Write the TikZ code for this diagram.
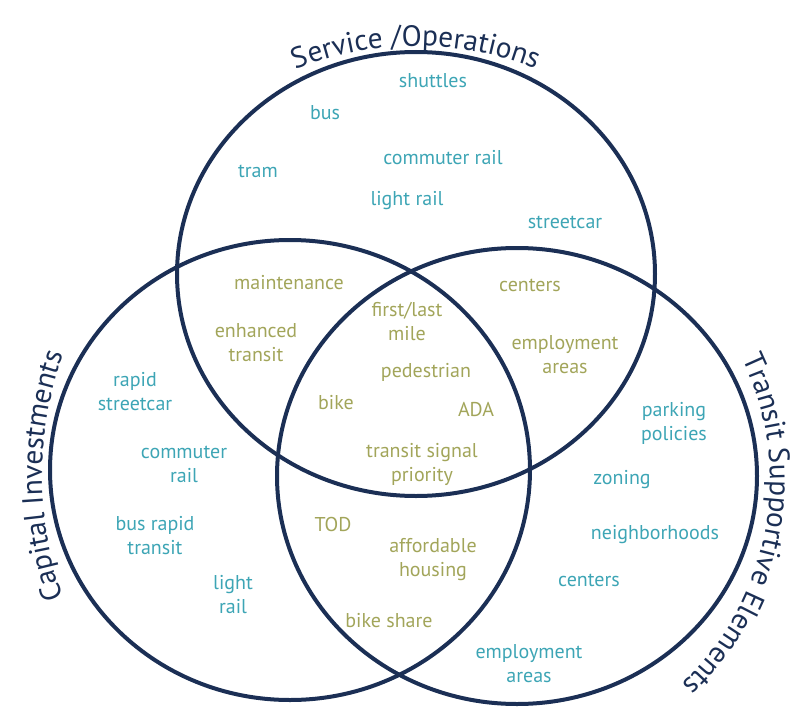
\documentclass[tikz,border=0pt]{standalone}
\usepackage{fontspec}
\setmainfont{PT Sans}
\usetikzlibrary{decorations.text}
\definecolor{ringnavy}{HTML}{1B2F55}
\definecolor{modeteal}{HTML}{3DA5B5}
\definecolor{shareolive}{HTML}{A2A55A}
\newcommand\titlesize{\fontsize{22}{26}\selectfont}
\begin{document}
\begin{tikzpicture}
[x=0.75pt,y=-0.75pt,
  ringdecorate/.style={draw=ringnavy,line width=3pt},
  onedecorate/.style={text=modeteal,align=center,inner sep=0pt,font=\fontsize{15}{18}\selectfont},
  twodecorate/.style={onedecorate,text=shareolive},
  titledecorate/.style={decorate,decoration={text along path,text align=center,text color=ringnavy}}]
\useasboundingbox (0,0) rectangle (793,710);
% centres of the rings
\coordinate (service) at (416,274);
\coordinate (capital) at (290,470);
\coordinate (support) at (517,476);
% rings
\draw[ringdecorate] (service) ellipse [x radius=239,y radius=222];
\draw[ringdecorate] (capital) ellipse [x radius=240,y radius=230];
\draw[ringdecorate] (support) ellipse [x radius=240,y radius=228];
% titles along the rings
\path[titledecorate,decoration={text={|\titlesize|Service /Operations}}]
  (416,366) ++(240:320) arc[start angle=240,end angle=300,radius=320];
\path[titledecorate,decoration={text={|\titlesize|Capital Investments}}]
  (400,476) ++(150:358) arc[start angle=150,end angle=210,radius=358];
\path[titledecorate,decoration={text={|\titlesize|Transit Supportive Elements}}]
  (490,480) ++(-35:280) arc[start angle=-35,end angle=56,radius=280];
% service only
\node (shuttles) at (433,81) [onedecorate] {shuttles};
\node (bus) at (325,113) [onedecorate] {bus};
\node (commrail) at (443,158) [onedecorate] {commuter rail};
\node (tram) at (258,171) [onedecorate] {tram};
\node (lightrail) at (407,201) [onedecorate] {light rail};
\node (streetcar) at (565,222) [onedecorate] {streetcar};
% service and capital
\node (maint) at (289,283) [twodecorate] {maintenance};
\node (enhanced) at (256,343) [twodecorate] {enhanced\\transit};
% service and support
\node (centers) at (530,285) [twodecorate] {centers};
\node (employ) at (565,355) [twodecorate] {employment\\areas};
% all three
\node (firstlast) at (407,321) [twodecorate] {first/last\\mile};
\node (ped) at (426,372) [twodecorate] {pedestrian};
\node (bike) at (336,403) [twodecorate] {bike};
\node (ada) at (476,409) [twodecorate] {ADA};
\node (signal) at (422,464) [twodecorate] {transit signal\\priority};
% capital only
\node (rapid) at (135,392) [onedecorate] {rapid\\streetcar};
\node (commuter) at (184,464) [onedecorate] {commuter\\rail};
\node (brt) at (155,536) [onedecorate] {bus rapid\\transit};
\node (light) at (233,595) [onedecorate] {light\\rail};
% capital and support
\node (tod) at (333,524) [twodecorate] {TOD};
\node (afford) at (433,560) [twodecorate] {affordable\\housing};
\node (bikeshare) at (389,621) [twodecorate] {bike share};
% support only
\node (parking) at (674,423) [onedecorate] {parking\\policies};
\node (zoning) at (622,480) [onedecorate] {zoning};
\node (hoods) at (655,535) [onedecorate] {neighborhoods};
\node (supcenters) at (589,580) [onedecorate] {centers};
\node (supemploy) at (529,664) [onedecorate] {employment\\areas};
\end{tikzpicture}
\end{document}
